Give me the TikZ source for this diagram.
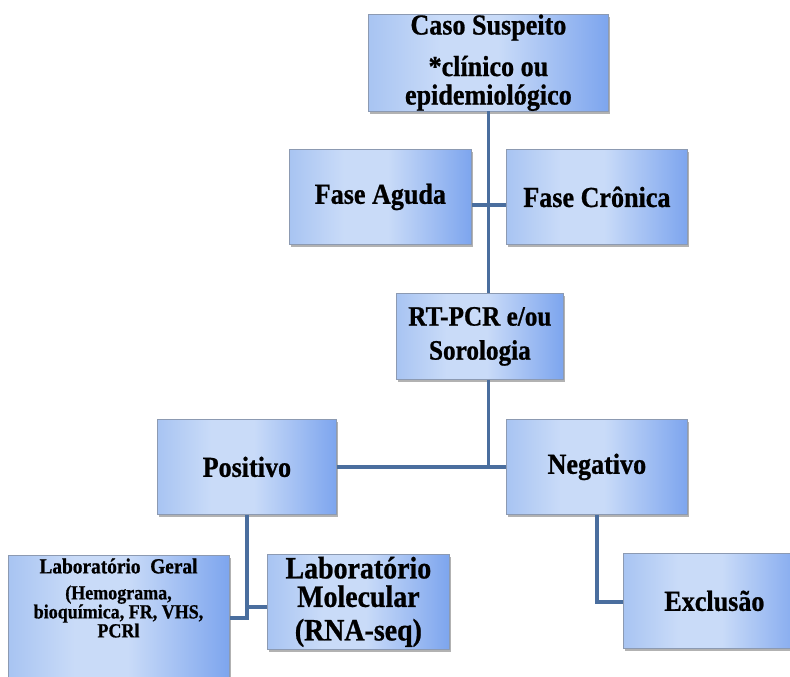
\documentclass[tikz,border=0pt]{standalone}
\usepackage{fontspec}
\setmainfont[FakeStretch=0.9, BoldFeatures={FakeBold=0.8}]{Liberation Serif}
\usetikzlibrary{shadows}
\definecolor{boxdark}{HTML}{7DA5EE}
\definecolor{boxlight}{HTML}{C9DBF8}
\definecolor{boxmid}{HTML}{A8C4F2}
\definecolor{boxedge}{HTML}{8C9AB2}
\definecolor{linkblue}{HTML}{4A6E9E}
% left-to-right fill of the boxes: light blue, lighter centre, deeper blue at the right edge
\pgfdeclarehorizontalshading{boxshade}{100bp}{
  color(0bp)=(boxmid); color(25bp)=(boxmid); color(40bp)=(boxlight);
  color(52bp)=(boxlight); color(75bp)=(boxdark); color(100bp)=(boxdark)}
\begin{document}
\begin{tikzpicture}[x=1pt,y=-1pt,
  box/.style={draw=boxedge, line width=0.8pt, shading=boxshade,
    drop shadow={shadow xshift=2pt, shadow yshift=-3pt, fill=black, opacity=0.3},
    anchor=north west, inner sep=0pt, align=center,
    font=\bfseries\fontsize{29}{32}\selectfont},
  link/.style={draw=linkblue, line width=3.2pt}]
\useasboundingbox (0,0) rectangle (790,677);
\clip (0,0) rectangle (790,677);
\fill[white] (0,0) rectangle (790,677);

% boxes
\node[box, minimum width=240pt, minimum height=96pt,
  font=\bfseries\fontsize{29}{28.5}\selectfont] (caso) at (368,14)
  {Caso Suspeito\\[13pt] *clínico ou\\ epidemiológico};
\node[box, minimum width=182pt, minimum height=95pt] (aguda) at (289,149) {Fase Aguda};
\node[box, minimum width=181pt, minimum height=95pt] (cronica) at (506,149) {Fase Crônica};
\node[box, minimum width=167pt, minimum height=86pt,
  font=\bfseries\fontsize{28}{30}\selectfont] (rt) at (396,293)
  {RT-PCR e/ou\\[4pt] Sorologia};
\node[box, minimum width=179pt, minimum height=95pt] (pos) at (157,419) {Positivo};
\node[box, minimum width=181pt, minimum height=95pt] (neg) at (506,419) {Negativo};
\node[box, minimum width=221pt, minimum height=150pt] (geral) at (8,555) {};
\node[align=center, inner sep=0pt, font=\bfseries\fontsize{20}{19}\selectfont]
  (geraltext) at (118.5,598)
  {{\fontsize{21.5}{19}\selectfont Laboratório~~Geral}\\[7pt] (Hemograma,\\ bioquímica, FR, VHS,\\ PCRl};
\node[box, minimum width=182pt, minimum height=95pt,
  font=\bfseries\fontsize{31}{28.5}\selectfont] (mol) at (267,554)
  {Laboratório\\ Molecular\\[5pt] (RNA-seq)};
\node[box, minimum width=182pt, minimum height=95pt] (excl) at (623,553) {Exclusão};

% connectors
\draw[link] (caso.south) -- (caso.south |- rt.north);
\draw[link] (aguda.east |- 0,205) -- (cronica.west |- 0,205);
\draw[link] (caso.south |- rt.south) -- (caso.south |- 0,467) coordinate (split);
\draw[link] (pos.east |- split) -- (neg.west |- split);
\draw[link] (pos.south) -- (pos.south |- 0,618) -- (geral.east |- 0,618);
\draw[link] (pos.south |- 0,607) -- (mol.west |- 0,607);
\draw[link] (neg.south) -- (neg.south |- 0,602) -- (excl.west |- 0,602);
\end{tikzpicture}
\end{document}
